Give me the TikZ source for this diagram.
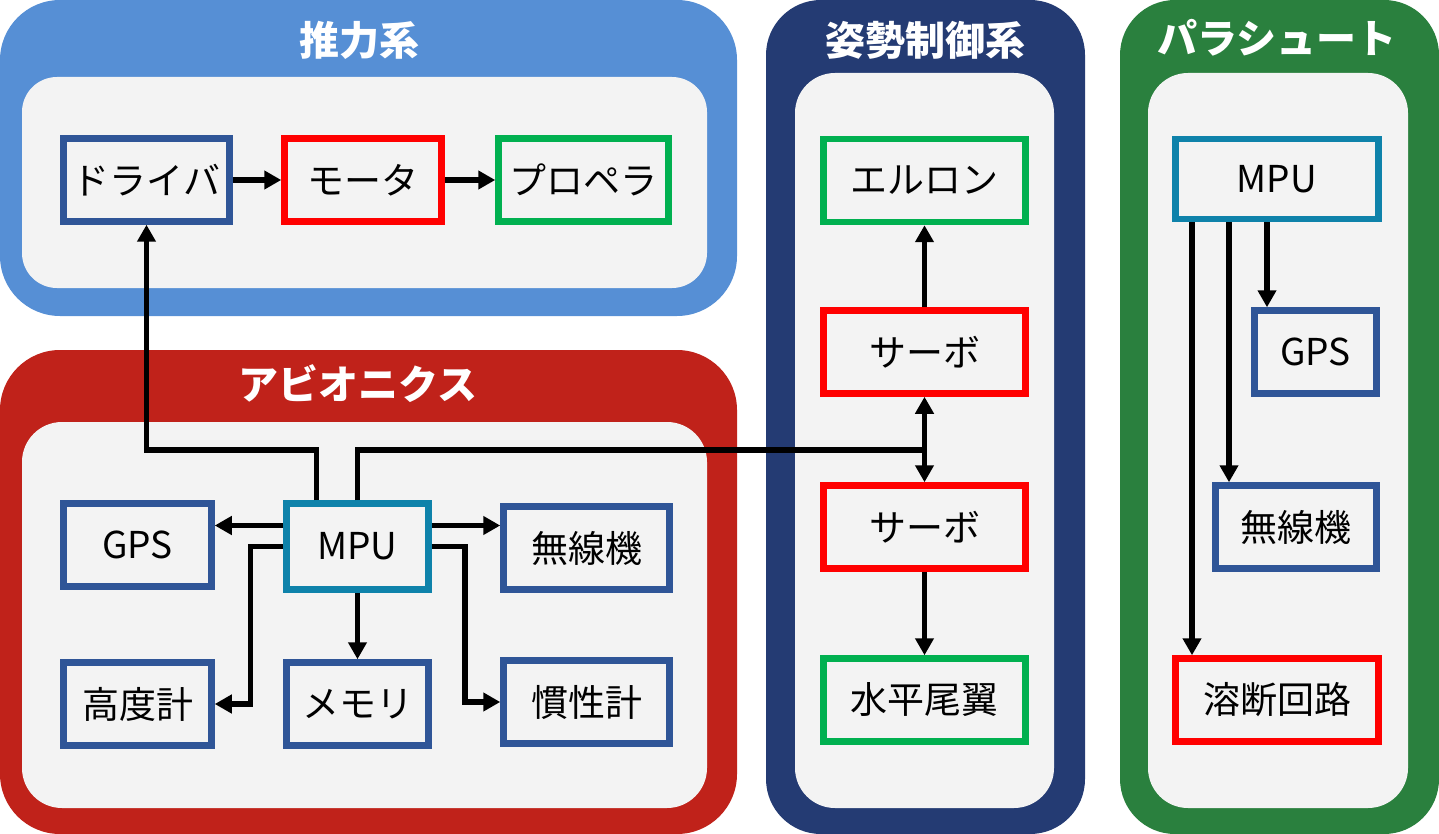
\documentclass[tikz,border=0pt]{standalone}
\usepackage{fontspec}
\setmainfont{Noto Sans CJK JP}
\usepackage{tikz}
\usetikzlibrary{arrows.meta,positioning,calc}
\definecolor{thrcol}{RGB}{86,143,213}
\definecolor{avicol}{RGB}{192,34,26}
\definecolor{attcol}{RGB}{36,59,115}
\definecolor{parcol}{RGB}{42,128,62}
\definecolor{paper}{RGB}{243,243,243}
\definecolor{bblue}{RGB}{47,85,151}
\definecolor{bteal}{RGB}{14,130,170}
\definecolor{bred}{RGB}{255,0,0}
\definecolor{bgreen}{RGB}{0,176,80}
\begin{document}
\begin{tikzpicture}[
      x=1pt, y=-1pt,
      font=\fontsize{37}{42}\selectfont,
      box/.style={draw=bblue, line width=6.5pt, fill=paper, align=center,
        minimum height=83pt, inner sep=0pt},
      mcu/.style={box, draw=bteal},
      act/.style={box, draw=bred},
      eff/.style={box, draw=bgreen},
      title/.style={text=white, font=\fontsize{40}{44}\selectfont\bfseries},
      arr/.style={-{Triangle[length=17pt,width=18pt]}, line width=5.5pt},
      dbl/.style={{Triangle[length=17pt,width=18pt]}-{Triangle[length=17pt,width=18pt]}, line width=5.5pt},
      wire/.style={line width=5.5pt},
    ]
    \useasboundingbox (0,0) rectangle (1439,834);
    % panels
    \fill[thrcol, rounded corners=60pt] (0,0) rectangle (737,316);
    \fill[paper, rounded corners=35pt] (22,77) rectangle (707,288);
    \fill[avicol, rounded corners=60pt] (0,350) rectangle (737,834);
    \fill[paper, rounded corners=40pt] (22,422) rectangle (707,808);
    \fill[attcol, rounded corners=55pt] (766,0) rectangle (1085,834);
    \fill[paper, rounded corners=40pt] (795,73) rectangle (1054,808);
    \fill[parcol, rounded corners=55pt] (1120,0) rectangle (1439,834);
    \fill[paper, rounded corners=40pt] (1148,73) rectangle (1408,808);
    \node[title] (tthr) at (359,40) {推力系};
    \node[title] (tavi) at (358,384) {アビオニクス};
    \node[title] (tatt) at (925,40) {姿勢制御系};
    \node[title] (tpar) at (1277,38) {パラシュート};
    % thrust
    \node[box, minimum width=166pt] (drv) at (146.5,180) {ドライバ};
    \node[act, minimum width=157pt] (mot) at (363,180) {モータ};
    \node[eff, minimum width=170pt] (prop) at (583.5,180) {プロペラ};
    % attitude
    \node[eff, minimum width=202pt] (ail) at (924.5,180.5) {エルロン};
    \node[act, minimum width=202pt] (srv1) at (924.5,352) {サーボ};
    \node[act, minimum width=202pt] (srv2) at (924.5,527) {サーボ};
    \node[eff, minimum width=202pt] (elev) at (924.5,700) {水平尾翼};
    % parachute
    \node[mcu, minimum width=203pt, minimum height=80pt] (pmpu) at (1277,179) {MPU};
    \node[box, minimum width=122pt] (pgps) at (1315.5,352) {GPS};
    \node[box, minimum width=161pt] (prad) at (1296,527) {無線機};
    \node[act, minimum width=203pt] (pfuse) at (1277,700) {溶断回路};
    % avionics
    \node[mcu, minimum width=142pt, minimum height=86pt] (ampu) at (357.5,546.5) {MPU};
    \node[box, minimum width=148pt] (agps) at (137.5,545) {GPS};
    \node[box, minimum width=166pt] (arad) at (586.5,548) {無線機};
    \node[box, minimum width=148pt] (aalt) at (137.5,704) {高度計};
    \node[box, minimum width=142pt] (amem) at (357.5,704) {メモリ};
    \node[box, minimum width=166pt] (aimu) at (586.5,702) {慣性計};
    \coordinate (jn) at (924.5,450);
    \coordinate (mw) at ([yshift=21pt]ampu.west);
    \coordinate (me) at ([yshift=21pt]ampu.east);
    \coordinate (mn) at ([xshift=-41pt]ampu.north);
    \coordinate (p1) at ([xshift=-85pt]pmpu.south);
    \coordinate (p2) at ([xshift=-48pt]pmpu.south);
    \coordinate (p3) at ([xshift=-10pt]pmpu.south);
    \draw[arr] (drv) -- (mot);
    \draw[arr] (mot) -- (prop);
    \draw[arr] (srv1) -- (ail);
    \draw[arr] (srv2) -- (elev);
    \draw[dbl] (srv1) -- (srv2);
    \draw[arr] (mn) |- (jn -| drv.south) -- (drv.south);
    \draw[wire] (ampu.north) |- (jn);
    \draw[arr] (mw) -- (mw -| agps.east);
    \draw[arr] (me) -- (me -| arad.west);
    \draw[arr] (ampu.west) -- ++(-33,0) |- (aalt.east);
    \draw[arr] (ampu.east) -- ++(33,0) |- (aimu.west);
    \draw[arr] (ampu) -- (amem);
    \draw[arr] (p1) -- (p1 |- pfuse.north);
    \draw[arr] (p2) -- (p2 |- prad.north);
    \draw[arr] (p3) -- (p3 |- pgps.north);
\end{tikzpicture}
\end{document}
